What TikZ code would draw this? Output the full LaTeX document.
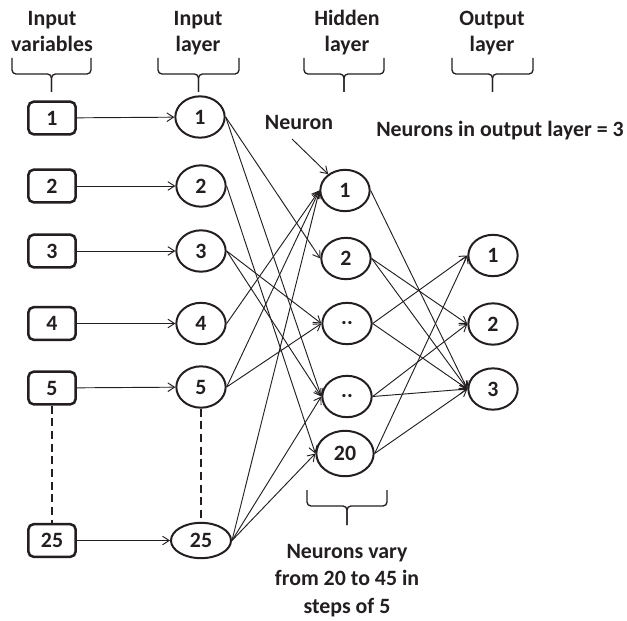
\documentclass[tikz,border=0pt]{standalone}
\usepackage{fontspec}
\setmainfont{Carlito}
\usetikzlibrary{arrows.meta,shapes.geometric}
\definecolor{ink}{HTML}{231F20}
\begin{document}
\begin{tikzpicture}[x=0.75pt,y=-0.75pt,
  every node/.style={font=\bfseries\fontsize{16.4}{19.6}\selectfont, text=ink, inner sep=0pt},
  varbox/.style={draw=ink, line width=1.9pt, rounded corners=4pt, minimum width=35.5pt, minimum height=24.5pt},
  neur/.style={draw=ink, line width=1.5pt, ellipse, minimum width=37pt, minimum height=31pt},
  bigneur/.style={neur, minimum width=43pt, minimum height=34pt},
  flatneur/.style={neur, minimum width=45pt, minimum height=26.5pt},
  conn/.style={draw=ink, line width=0.7pt, -{Straight Barb[length=5pt,width=6.5pt]}},
  dots/.style={draw=ink, line width=1.5pt, dash pattern=on 6pt off 3.5pt},
  brc/.style={draw=ink, line width=1pt, rounded corners=3pt}]
\useasboundingbox (0,0) rectangle (627,620);

% headers (anchor = baseline of the last line)
\node[anchor=base, align=center] (hv) at (52,52) {Input\\variables};
\node[anchor=base, align=center] (hi) at (198,52) {Input\\layer};
\node[anchor=base, align=center] (hh) at (347,52) {Hidden\\layer};
\node[anchor=base, align=center] (ho) at (492,52) {Output\\layer};

% braces
\newcommand\mybrace[5]{%
  \draw[brc] (#1,#3) -- (#1,#4) -- ({(#1+#2)/2},#4) -- ({(#1+#2)/2},#5);
  \draw[brc] (#2,#3) -- (#2,#4) -- ({(#1+#2)/2},#4) -- ({(#1+#2)/2},#5);}
\mybrace{12}{91}{58}{74}{92}
\mybrace{158}{239}{58}{74}{92}
\mybrace{304}{384}{58}{74}{92}
\mybrace{452}{533}{58}{74}{92}
\mybrace{307}{387}{490}{506}{525}

% input variables
\node[varbox] (v1) at (52,118) {1};
\node[varbox] (v2) at (52,186) {2};
\node[varbox] (v3) at (52,251) {3};
\node[varbox] (v4) at (52,323.5) {4};
\node[varbox] (v5) at (52,388) {5};
\node[varbox] (v25) at (52,540.5) {25};

% input layer
\node[neur] (i1) at (200,117) {1};
\node[neur] (i2) at (201,186) {2};
\node[neur] (i3) at (201,251) {3};
\node[neur] (i4) at (201,323.5) {4};
\node[neur] (i5) at (201,387) {5};
\node[flatneur] (i25) at (201,540.5) {25};

% hidden layer
\node[neur] (h1) at (345,190.5) {1};
\node[neur] (h2) at (346,258.5) {2};
\node[neur] (ha) at (347,323.5) {..};
\node[neur] (hb) at (347,396.5) {..};
\node[bigneur] (h20) at (345,453.5) {20};

% output layer
\node[neur] (o1) at (493,255.5) {1};
\node[neur] (o2) at (493,324) {2};
\node[neur] (o3) at (493,389) {3};

% dashed continuation
\draw[dots] (v5) -- (v25);
\draw[dots] (i5) -- (i25);

% inputs to input layer
\foreach \k in {1,2,3,4,5,25} \draw[conn] (v\k) -- (i\k);

% input layer to hidden layer
\foreach \a/\b in {i1/h2, i1/hb, i2/h20, i3/ha, i3/hb, i4/h1, i5/h1, i5/ha, i25/h1, i25/hb, i25/h20}
  \draw[conn] (\a.east) -- (\b.west);

% hidden to output
\foreach \a/\b in {h1/o3, h2/o2, h2/o3, ha/o1, ha/o3, hb/o2, hb/o3, h20/o1, h20/o3}
  \draw[conn] (\a.east) -- (\b.west);

% annotations
\node[anchor=base] (nl) at (299,130) {Neuron};
\coordinate (ns) at (292,139);
\draw[conn] (ns) -- (h1);
\node[anchor=base] (no) at (500,137) {Neurons in output layer = 3};
\node[anchor=base, align=center] (nv) at (347,613) {Neurons vary\\[1pt]from 20 to 45 in\\[1pt]steps of 5};
\end{tikzpicture}
\end{document}
